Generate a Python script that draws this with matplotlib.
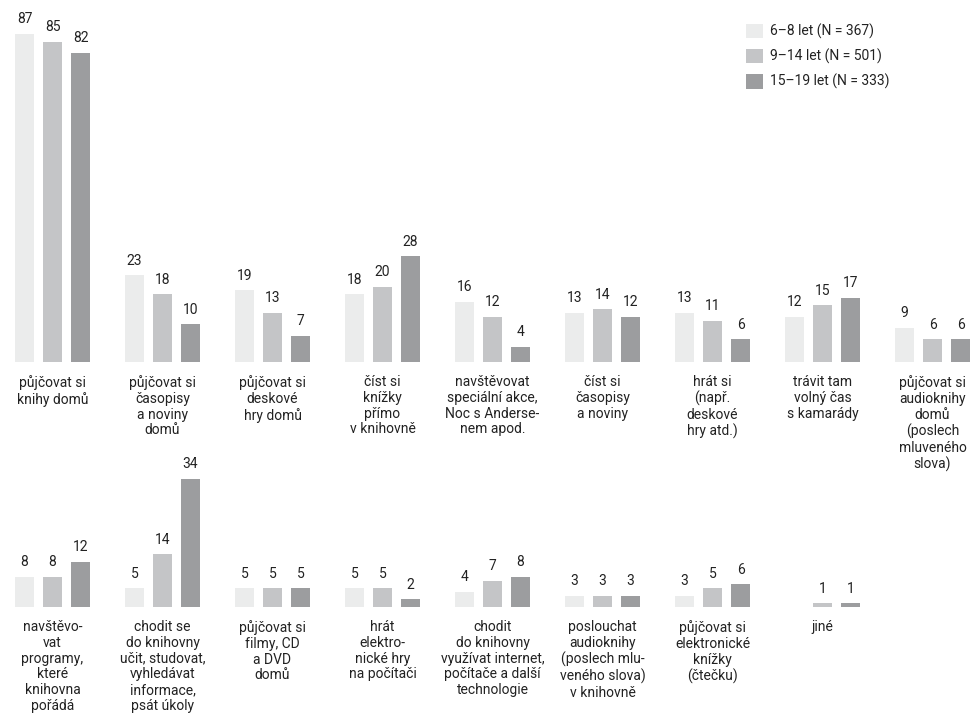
import matplotlib
matplotlib.use("Agg")
import matplotlib.pyplot as plt
from matplotlib.patches import Patch

plt.rcParams['font.family'] = ['Roboto', 'DejaVu Sans']

series = ['6–8 let (N = 367)', '9–14 let (N = 501)', '15–19 let (N = 333)']
colors = ['#ebecec', '#c4c5c7', '#9c9d9f']

top_labels = [
    'půjčovat si\nknihy domů',
    'půjčovat si\nčasopisy\na noviny\ndomů',
    'půjčovat si\ndeskové\nhry domů',
    'číst si\nknížky\npřímo\nv knihovně',
    'navštěvovat\nspeciální akce,\nNoc s Anderse-\nnem apod.',
    'číst si\nčasopisy\na noviny',
    'hrát si\n(např.\ndeskové\nhry atd.)',
    'trávit tam\nvolný čas\ns kamarády',
    'půjčovat si\naudioknihy\ndomů\n(poslech\nmluveného\nslova)',
]
top_68 = [87, 23, 19, 18, 16, 13, 13, 12, 9]
top_914 = [85, 18, 13, 20, 12, 14, 11, 15, 6]
top_1519 = [82, 10, 7, 28, 4, 12, 6, 17, 6]

bot_labels = [
    'navštěvo-\nvat\nprogramy,\nkteré\nknihovna\npořádá',
    'chodit se\ndo knihovny\nučit, studovat,\nvyhledávat\ninformace,\npsát úkoly',
    'půjčovat si\nfilmy, CD\na DVD\ndomů',
    'hrát\nelektro-\nnické hry\nna počítači',
    'chodit\ndo knihovny\nvyužívat internet,\npočítače a další\ntechnologie',
    'poslouchat\naudioknihy\n(poslech mlu-\nveného slova)\nv knihovně',
    'půjčovat si\nelektronické\nknížky\n(čtečku)',
    'jiné',
]
bot_68 = [8, 5, 5, 5, 4, 3, 3, None]
bot_914 = [8, 14, 5, 5, 7, 3, 5, 1]
bot_1519 = [12, 34, 5, 2, 8, 3, 6, 1]

W, H = 971, 715
fig = plt.figure(figsize=(W / 100, H / 100), dpi=100)

px_per_unit = 3.77
step = 110.0
x0 = 52.5
offsets = [-28 / step, 0, 28 / step]
bw = 19 / step


def draw_row(baseline, top, labels, rows):
    ax = fig.add_axes([0, 1 - baseline / H, 1, (baseline - top) / H])
    ax.set_xlim(-x0 / step, (W - x0) / step)
    ax.set_ylim(0, (baseline - top) / px_per_unit)
    ax.axis('off')
    for s, vals in enumerate(rows):
        for i, v in enumerate(vals):
            if v is None:
                continue
            x = i + offsets[s]
            ax.bar(x, v, width=bw, color=colors[s], linewidth=0)
            ax.annotate(str(v), (x, v), xytext=(0, 5.5), textcoords='offset points',
                        ha='center', va='bottom', fontsize=10, color='#222222',
                        annotation_clip=False)
    for i, lab in enumerate(labels):
        ax.annotate(lab, (i, 0), xytext=(0, -9.5), textcoords='offset points',
                    ha='center', va='top', fontsize=10, color='#222222',
                    linespacing=1.16, annotation_clip=False)
    return ax


draw_row(362, 0, top_labels, [top_68, top_914, top_1519])
draw_row(607, 440, bot_labels, [bot_68, bot_914, bot_1519])

handles = [Patch(facecolor=c, edgecolor='none') for c in colors]
fig.legend(handles, series, loc='upper left', bbox_to_anchor=(746 / W, 1 - 24 / H),
           frameon=False, fontsize=10, handlelength=1.2, handleheight=1.2,
           handletextpad=0.5, labelspacing=0.7, borderpad=0, borderaxespad=0,
           labelcolor='#222222')

fig.savefig('out.png', dpi=100)
